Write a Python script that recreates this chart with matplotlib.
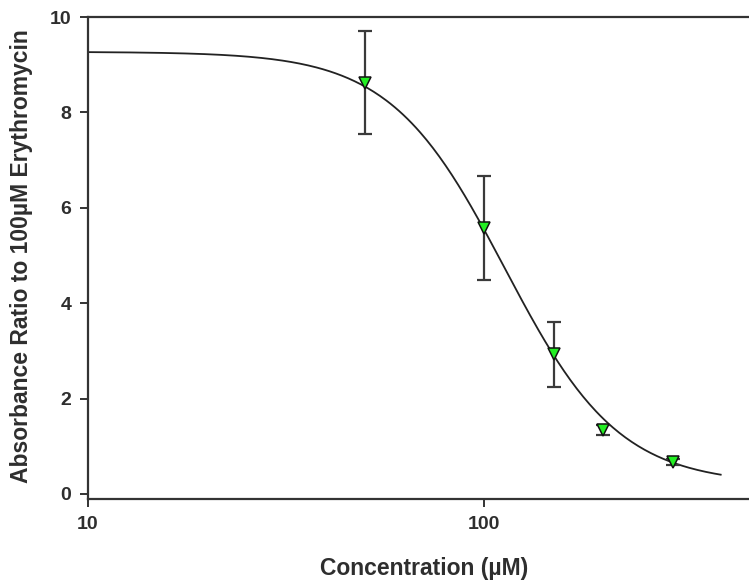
import numpy as np
import matplotlib.pyplot as plt

# measured points
conc = [50, 100, 150, 200, 300]
ratio = [8.62, 5.58, 2.93, 1.34, 0.67]
err = [1.08, 1.09, 0.68, 0.10, 0.07]

# four-parameter logistic fit
fit_top = 9.27
fit_bottom = 0.2
fit_ic50 = 112.8
fit_hill = 3.0
fit_range = (10, 396)

x_fit = np.logspace(np.log10(fit_range[0]), np.log10(fit_range[1]), 300)
y_fit = fit_bottom + (fit_top - fit_bottom) / (1 + (x_fit / fit_ic50) ** fit_hill)

plt.rcParams['font.family'] = ['Liberation Sans', 'DejaVu Sans']
txt = '#2e2e2e'

fig = plt.figure(figsize=(7.49, 5.81), dpi=100)
ax = fig.add_axes([88 / 749, 1 - 499 / 581, 1 - 88 / 749, (499 - 17) / 581])

ax.plot(x_fit, y_fit, color='#222222', lw=1.3)
ax.errorbar(conc, ratio, yerr=err, fmt='none', ecolor='#3a3a3a', elinewidth=1.6,
            capsize=5, capthick=1.6, zorder=3)
ax.plot(conc, ratio, linestyle='none', marker='v', markersize=8.5,
        markerfacecolor='#22ee22', markeredgecolor='#111111', markeredgewidth=1.1, zorder=4)

ax.set_xscale('log')
ax.set_xlim(10, 10 ** (1 + (749 - 88) / 396))
ax.set_ylim(-0.105, 10)
ax.set_xticks([10, 100])
ax.set_xticklabels(['10', '100'])
ax.xaxis.set_minor_locator(plt.NullLocator())
ax.set_yticks([0, 2, 4, 6, 8, 10])

for s in ['left', 'bottom', 'top']:
    ax.spines[s].set_color('#333333')
    ax.spines[s].set_linewidth(1.6)
ax.spines['right'].set_visible(False)

ax.tick_params(axis='both', direction='out', length=6, width=1.4, color='#333333',
               labelsize=14, labelcolor=txt, pad=6)
for lab in ax.get_xticklabels() + ax.get_yticklabels():
    lab.set_fontweight('bold')

ax.set_xlabel('Concentration (\u00b5M)', fontsize=16.5, fontweight='bold', color=txt)
ax.set_ylabel('Absorbance Ratio to 100\u00b5M Erythromycin', fontsize=16.5, fontweight='bold',
              color=txt)
ax.xaxis.set_label_coords((424 - 88) / (749 - 88), (499 - 568) / (499 - 17), transform=ax.transAxes)
ax.yaxis.set_label_coords((22 - 88) / (749 - 88), (499 - 256) / (499 - 17), transform=ax.transAxes)
ax.xaxis.label.set_va('center')
ax.yaxis.label.set_va('center')

fig.savefig('out.png', dpi=100)
